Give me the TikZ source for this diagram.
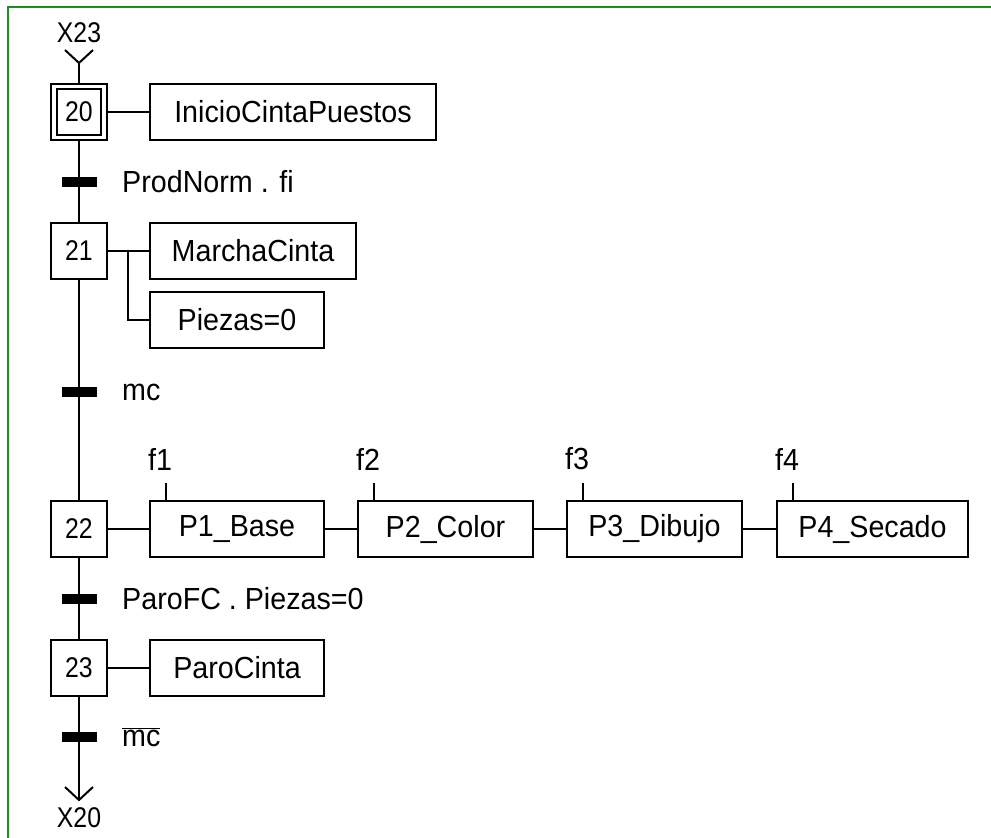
\documentclass[tikz,border=0pt]{standalone}
\usepackage{fontspec}
\setmainfont{Liberation Sans}[FakeStretch=0.94]
\newfontfamily\numfont{Liberation Sans}[FakeStretch=0.87]
\definecolor{framegreen}{RGB}{30,140,30}
\begin{document}
\begin{tikzpicture}[x=1pt,y=-1pt,
  every node/.style={font=\fontsize{30.5}{36}\selectfont, inner sep=0pt},
  numtext/.style={font=\numfont\fontsize{28.5}{33}\selectfont},
  stepbox/.style={draw, line width=2pt, minimum width=56pt, minimum height=56pt, numtext},
  actbox/.style={draw, line width=2pt, minimum height=56pt, anchor=west},
  link/.style={line width=2pt},
  trbar/.style={fill=black, minimum width=35pt, minimum height=10pt},
  trlabel/.style={anchor=west},
  reflabel/.style={numtext}
]
\useasboundingbox (0,0) rectangle (991,838);
% open frame: top and left edges only
\draw[framegreen, line width=2.2pt] (8,838) -- (8,7) -- (991,7);

% steps
\node[stepbox] (s20) at (79,112) {};
\node[draw, line width=1.4pt, minimum width=44pt, minimum height=46pt, numtext] (s20i) at (79,112) {20};
\node[stepbox] (s21) at (79,251) {21};
\node[stepbox] (s22) at (79,529) {22};
\node[stepbox] (s23) at (79,668) {23};

% transitions
\node[trbar] (t1) at (79,182) {};
\node[trbar] (t2) at (79,392) {};
\node[trbar] (t3) at (79,599) {};
\node[trbar] (t4) at (79,737) {};
\node[trlabel] (l1) at (122,182) {ProdNorm . fi};
\node[trlabel] (l2) at (122,392) {mc};
\node[trlabel] (l3) at (122,599) {ParoFC . Piezas=0};
\node[trlabel] (l4) at (122,737) {$\overline{\hbox{mc}}$};

% initial and final references
\node[reflabel] (x23) at (79,33) {X23};
\node[reflabel] (x20) at (79,818) {X20};
\coordinate (inA) at (79,63);
\coordinate (outA) at (79,800);
\draw[link] (65,50) -- (inA) -- (93,50);
\draw[link] (65,787) -- (outA) -- (93,787);

% main vertical line
\draw[link] (inA) -- (s20.north);
\draw[link] (s20.south) -- (s21.north);
\draw[link] (s21.south) -- (s22.north);
\draw[link] (s22.south) -- (s23.north);
\draw[link] (s23.south) -- (outA);

% actions
\node[actbox, minimum width=286pt] (a20) at (149,112) {InicioCintaPuestos};
\node[actbox, minimum width=206pt] (a21a) at (149,251) {MarchaCinta};
\node[actbox, minimum width=174pt] (a21b) at (149,320) {Piezas=0};
\node[actbox, minimum width=174pt] (p1) at (149,529) {P1\_Base};
\node[actbox, minimum width=175pt] (p2) at (357,529) {P2\_Color};
\node[actbox, minimum width=175pt] (p3) at (566,529) {P3\_Dibujo};
\node[actbox, minimum width=191pt] (p4) at (776,529) {P4\_Secado};
\node[actbox, minimum width=174pt] (a23) at (149,668) {ParoCinta};

\draw[link] (s20.east) -- (a20.west);
\draw[link] (s21.east) -- (a21a.west);
\draw[link] (128,251) |- (a21b.west);
\draw[link] (s22.east) -- (p1.west);
\draw[link] (p1.east) -- (p2.west);
\draw[link] (p2.east) -- (p3.west);
\draw[link] (p3.east) -- (p4.west);
\draw[link] (s23.east) -- (a23.west);

% end-of-action conditions
\foreach \p/\f in {p1/f1, p2/f2, p3/f3, p4/f4}{
  \draw[link] ([xshift=17pt]\p.north west) -- ++(0,-17) coordinate (\f tick);
  \node[anchor=west] (\f) at ([xshift=-1pt,yshift=41pt]\p.north west) {\f};
}
\end{tikzpicture}
\end{document}
